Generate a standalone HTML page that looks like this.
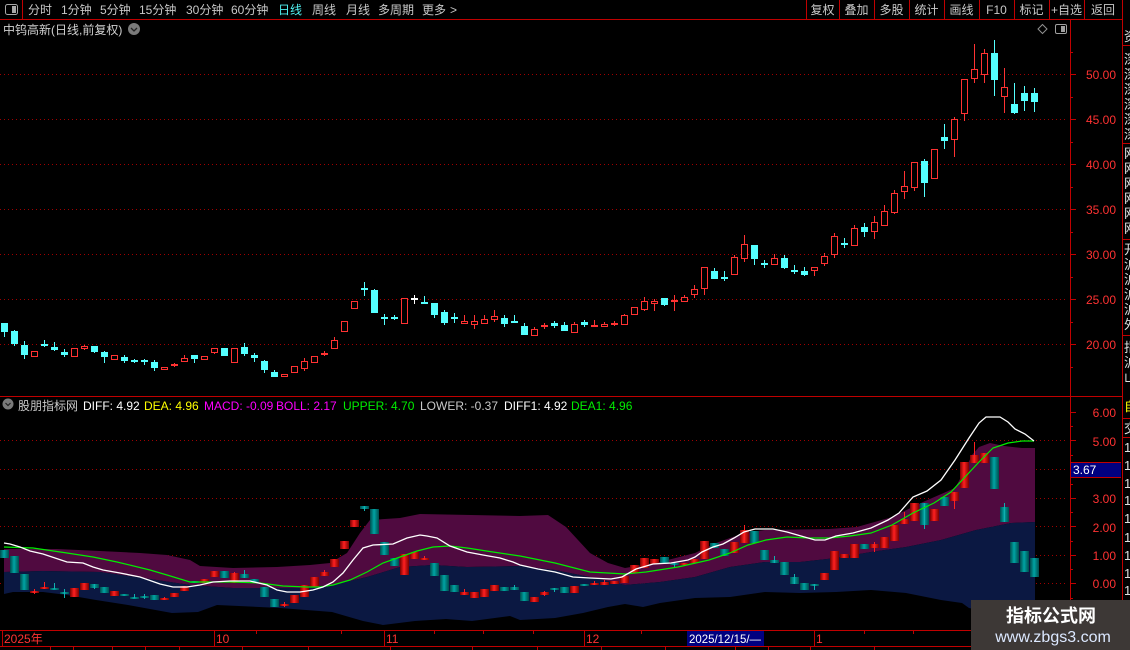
<!DOCTYPE html>
<html><head><meta charset="utf-8"><style>
html,body{margin:0;padding:0;background:#000;}
svg{display:block;}
text{font-family:"Liberation Sans","Noto Sans CJK SC",sans-serif;}
</style></head><body>
<svg width="1130" height="650" viewBox="0 0 1130 650" xmlns="http://www.w3.org/2000/svg">
<defs>
<linearGradient id="lr" x1="0" x2="1" y1="0" y2="0"><stop offset="0" stop-color="#780000"/><stop offset="0.45" stop-color="#ff2020"/><stop offset="1" stop-color="#780000"/></linearGradient>
<linearGradient id="lt" x1="0" x2="1" y1="0" y2="0"><stop offset="0" stop-color="#004c4c"/><stop offset="0.45" stop-color="#00a4a4"/><stop offset="1" stop-color="#004c4c"/></linearGradient>
<pattern id="pr" width="10" height="10" patternUnits="userSpaceOnUse"><rect width="9" height="10" fill="url(#lr)"/></pattern>
<pattern id="pt" width="10" height="10" patternUnits="userSpaceOnUse"><rect width="9" height="10" fill="url(#lt)"/></pattern>
</defs>
<rect width="1130" height="650" fill="#000"/>

<!-- toolbar -->
<g stroke="#c00000" stroke-width="1" fill="none">
<path d="M0 19.5H1122M22.5 0V19M806.5 0V19M839.5 0V19M874.5 0V19M909.5 0V19M944.5 0V19M979.5 0V19M1014.5 0V19M1049.5 0V19M1084.5 0V19M1122.5 0V650M1070.5 19V646M0 396.5H1122M0 630.5H971M0 646.5H971"/>
</g>
<rect x="5.5" y="4.5" width="12" height="10" rx="2" fill="none" stroke="#a8a8a8"/>
<rect x="12" y="6" width="4" height="7" fill="#a8a8a8"/>
<g font-size="12" fill="#c8c8c8">
<text x="28" y="14">分时</text>
<text x="61" y="14">1分钟</text>
<text x="100" y="14">5分钟</text>
<text x="139" y="14">15分钟</text>
<text x="186" y="14">30分钟</text>
<text x="231" y="14">60分钟</text>
<text x="278" y="14" fill="#50f0f0">日线</text>
<text x="312" y="14">周线</text>
<text x="346" y="14">月线</text>
<text x="378" y="14">多周期</text>
<text x="422" y="14">更多</text>
<text x="450" y="14">&gt;</text>
<g text-anchor="middle">
<text x="822.5" y="14">复权</text>
<text x="856.5" y="14">叠加</text>
<text x="891.5" y="14">多股</text>
<text x="926.5" y="14">统计</text>
<text x="961.5" y="14">画线</text>
<text x="996.5" y="14">F10</text>
<text x="1031.5" y="14">标记</text>
<text x="1066.5" y="14">+自选</text>
<text x="1103" y="14">返回</text>
</g>
<text x="3" y="34" fill="#d0d0d0">中钨高新(日线,前复权)</text>
</g>
<circle cx="134" cy="29" r="6" fill="#7a7a7a"/>
<path d="M131 28l3 3l3-3" stroke="#222" stroke-width="1.3" fill="none"/>
<path d="M1042.5 24.5l4.5 4.5l-4.5 4.5l-4.5-4.5z" fill="none" stroke="#909090"/>
<rect x="1055.5" y="24.5" width="11" height="9" rx="1.5" fill="none" stroke="#a0a0a0"/>
<rect x="1061" y="26" width="4" height="6" fill="#a0a0a0"/>

<!-- right strip -->
<g stroke="#c00000" fill="none"><path d="M1122 45.5H1130M1122 143.5H1130M1122 239.5H1130M1122 335.5H1130M1122 418.5H1130M1122 437.5H1130"/></g>
<g font-size="13" fill="#e0e0e0">
<text x="1124" y="41">资</text>
<text x="1124" y="64">深</text><text x="1124" y="79">深</text><text x="1124" y="94">深</text><text x="1124" y="109">深</text><text x="1124" y="124">深</text><text x="1124" y="139">深</text>
<text x="1124" y="158">网</text><text x="1124" y="173">网</text><text x="1124" y="188">网</text><text x="1124" y="203">网</text><text x="1124" y="218">网</text><text x="1124" y="233">网</text>
<text x="1124" y="254">开</text><text x="1124" y="269">沪</text><text x="1124" y="284">沪</text><text x="1124" y="299">沪</text><text x="1124" y="314">沪</text><text x="1124" y="329">外</text>
<text x="1124" y="352">指</text><text x="1124" y="367">沪</text><text x="1124" y="382">山</text>
<text x="1124" y="411" fill="#ffff00">自</text>
<text x="1124" y="433">交</text>
<text x="1124" y="452">1</text><text x="1124" y="470">1</text><text x="1124" y="488">1</text><text x="1124" y="505">1</text><text x="1124" y="523">1</text><text x="1124" y="542">1</text><text x="1124" y="560">1</text><text x="1124" y="578">1</text><text x="1124" y="595">1</text>
</g>

<!-- main grid -->
<g stroke="#a00000" stroke-dasharray="1 3" stroke-width="1">
<path d="M0 74.5H1068M0 119.5H1068M0 164.5H1068M0 209.5H1068M0 254.5H1068M0 299.5H1068M0 344.5H1068"/>
<path d="M0 440.5H1068M0 469.5H1068M0 498.5H1068M0 526.5H1068M0 555.5H1068M0 583.5H1068"/>
</g>
<!-- axis ticks -->
<g stroke="#c00000">
<path d="M1070 74.5h6M1070 119.5h6M1070 164.5h6M1070 209.5h6M1070 254.5h6M1070 299.5h6M1070 344.5h6M1070 97.5h3M1070 142.5h3M1070 187.5h3M1070 232.5h3M1070 277.5h3M1070 322.5h3M1070 367.5h3M1070 52.5h3"/>
<path d="M1070 412.5h6M1070 440.5h6M1070 469.5h6M1070 498.5h6M1070 526.5h6M1070 555.5h6M1070 583.5h6M1070 426.5h3M1070 455.5h3M1070 484.5h3M1070 512.5h3M1070 541.5h3M1070 569.5h3M1070 598.5h3M1070 612.5h3"/>
</g>
<g font-size="12" fill="#ff3232" text-anchor="end">
<text x="1116" y="79">50.00</text>
<text x="1116" y="124">45.00</text>
<text x="1116" y="169">40.00</text>
<text x="1116" y="214">35.00</text>
<text x="1116" y="259">30.00</text>
<text x="1116" y="304">25.00</text>
<text x="1116" y="349">20.00</text>
<text x="1116" y="417">6.00</text>
<text x="1116" y="446">5.00</text>
<text x="1116" y="503">3.00</text>
<text x="1116" y="532">2.00</text>
<text x="1116" y="560">1.00</text>
<text x="1116" y="588">0.00</text>
</g>
<rect x="1071" y="462" width="50" height="16" fill="#000080"/>
<path d="M1071 462.5H1121M1071 477.5H1121" stroke="#c00000"/>
<text x="1073" y="474" font-size="12" fill="#ffffff">3.67</text>

<!-- main candles -->
<g stroke-width="1" fill="none">
<path stroke="#ff3232" d="M84.5 345V350M174.5 363V367M184.5 355V362M214.5 348V354M304.5 358V371M324.5 351V356M334.5 337V349M464.5 315V324M474.5 315V329M484.5 315V324M494.5 310V322M534.5 327V336M544.5 323V329M574.5 322V333M594.5 320V327M604.5 322V327M614.5 321V326M624.5 314V325M644.5 297V311M654.5 299V311M674.5 295V311M684.5 295V302M694.5 285V298M704.5 267V295M734.5 255V275M744.5 235V262M774.5 254V265M814.5 267V276M824.5 253V266M834.5 233V258M854.5 225V246M874.5 216V239M884.5 205V226M894.5 190V214M904.5 171V199M914.5 162V191M954.5 117V157M964.5 79V121M974.5 44V83M984.5 49V83M1004.5 68V113"/>
<path stroke="#54ffff" d="M4.5 323V337M14.5 330V346M24.5 341V359M44.5 340V347M54.5 342V351M64.5 349V357M94.5 346V353M104.5 351V363M124.5 355V363M134.5 359V363M144.5 359V365M154.5 360V371M194.5 355V363M244.5 343V356M254.5 353V362M264.5 360V373M274.5 370V377M364.5 282V296M374.5 289V313M384.5 314V325M394.5 315V320M424.5 296V304M434.5 303V318M444.5 310V325M454.5 313V323M504.5 315V327M514.5 315V322M524.5 323V335M554.5 321V328M564.5 322V331M584.5 320V327M664.5 298V306M714.5 268V279M724.5 271V281M754.5 245V265M764.5 260V268M784.5 255V269M794.5 265V274M804.5 267V276M844.5 238V248M864.5 223V237M924.5 159V197M944.5 124V149M994.5 40V96M1014.5 83V114M1024.5 86V111M1034.5 88V112"/>
<path stroke="#ffffff" d="M414.5 295V304"/>
</g>
<path fill="#000" stroke="#ff3232" stroke-width="1" d="M31.5 351.5h6v5h-6zM71.5 348.5h6v8h-6zM81.5 346.5h6v2h-6zM111.5 355.5h6v4h-6zM161.5 367.5h6v2h-6zM181.5 358.5h6v3h-6zM201.5 356.5h6v3h-6zM211.5 348.5h6v4h-6zM231.5 348.5h6v14h-6zM281.5 374.5h6v2h-6zM291.5 366.5h6v6h-6zM301.5 361.5h6v7h-6zM311.5 356.5h6v6h-6zM331.5 340.5h6v8h-6zM341.5 321.5h6v10h-6zM351.5 301.5h6v7h-6zM401.5 298.5h6v25h-6zM461.5 321.5h6v2h-6zM471.5 321.5h6v3h-6zM481.5 319.5h6v4h-6zM491.5 316.5h6v3h-6zM531.5 329.5h6v6h-6zM571.5 324.5h6v8h-6zM601.5 324.5h6v2h-6zM621.5 315.5h6v9h-6zM631.5 307.5h6v7h-6zM641.5 301.5h6v8h-6zM651.5 301.5h6v2h-6zM681.5 297.5h6v4h-6zM691.5 289.5h6v5h-6zM701.5 267.5h6v21h-6zM731.5 257.5h6v17h-6zM741.5 244.5h6v14h-6zM771.5 258.5h6v6h-6zM811.5 267.5h6v3h-6zM821.5 256.5h6v7h-6zM831.5 236.5h6v18h-6zM851.5 228.5h6v17h-6zM871.5 222.5h6v9h-6zM881.5 211.5h6v14h-6zM891.5 193.5h6v19h-6zM901.5 186.5h6v5h-6zM911.5 162.5h6v25h-6zM931.5 149.5h6v29h-6zM951.5 119.5h6v20h-6zM961.5 79.5h6v34h-6zM971.5 69.5h6v9h-6zM981.5 53.5h6v21h-6zM1001.5 87.5h6v9h-6z"/>
<path fill="#ff3232" d="M171 364h7v2h-7zM321 353h7v2h-7zM541 325h7v2h-7zM591 325h7v2h-7zM611 323h7v2h-7zM671 300h7v2h-7z"/>
<path fill="#54ffff" d="M1 323h7v9h-7zM11 331h7v13h-7zM21 345h7v10h-7zM41 344h7v2h-7zM51 347h7v3h-7zM61 352h7v3h-7zM91 346h7v6h-7zM101 352h7v5h-7zM121 357h7v4h-7zM131 360h7v2h-7zM141 360h7v2h-7zM151 362h7v6h-7zM191 355h7v4h-7zM221 348h7v8h-7zM241 347h7v7h-7zM251 355h7v3h-7zM261 361h7v9h-7zM271 372h7v5h-7zM361 288h7v2h-7zM371 290h7v23h-7zM381 317h7v2h-7zM391 317h7v2h-7zM421 302h7v2h-7zM431 303h7v12h-7zM441 312h7v11h-7zM451 317h7v2h-7zM501 318h7v6h-7zM511 321h7v2h-7zM521 326h7v9h-7zM551 323h7v3h-7zM561 325h7v6h-7zM581 322h7v3h-7zM661 298h7v7h-7zM711 271h7v8h-7zM721 277h7v2h-7zM751 245h7v14h-7zM761 263h7v2h-7zM781 258h7v10h-7zM791 270h7v2h-7zM801 271h7v4h-7zM841 243h7v2h-7zM861 227h7v5h-7zM921 161h7v22h-7zM941 137h7v4h-7zM991 53h7v27h-7zM1011 104h7v9h-7zM1021 93h7v8h-7zM1031 93h7v9h-7z"/>
<path fill="#ffffff" d="M411 298h7v2h-7z"/>

<!-- lower panel legend -->
<circle cx="8" cy="404" r="5.5" fill="#7a7a7a"/>
<path d="M5.5 403l2.5 2.5l2.5-2.5" stroke="#222" stroke-width="1.2" fill="none"/>
<g font-size="12">
<text x="18" y="410" fill="#c8c8c8">股朋指标网</text>
<text x="83" y="410" fill="#ffffff">DIFF: 4.92</text>
<text x="144" y="410" fill="#ffff00">DEA: 4.96</text>
<text x="204" y="410" fill="#ff00ff">MACD: -0.09</text>
<text x="276" y="410" fill="#ff00ff">BOLL: 2.17</text>
<text x="343" y="410" fill="#00ee00">UPPER: 4.70</text>
<text x="420" y="410" fill="#c8c8c8">LOWER: -0.37</text>
<text x="504" y="410" fill="#ffffff">DIFF1: 4.92</text>
<text x="571" y="410" fill="#00ee00">DEA1: 4.96</text>
</g>

<!-- bands -->
<path fill="#500a40" d="M4 549L30 549L57 549L100 551L140 553L167 555L190 560L200 566L233 568L277 567L310 565L330 563L347 553L360 533L370 520L400 518L420 514L520 516L548 515L566 527L590 553L608 563L625 568L660 562L695 553L716 543L744 533L765 530L829 529L857 527L892 517L923 502L955 488L965 470L972 455L979 447L990 443L1004 446L1022 448L1035 448L1035 522L1011 523L976 530L941 540L906 547L871 552L836 558L800 562L765 562L730 567L695 577L660 582L625 585L590 577L555 570L520 566L467 567L433 565L400 567L367 577L333 585L300 588L233 588L190 585L150 579L100 572L43 571L4 572Z"/>
<path fill="#0b1842" d="M4 572L43 571L100 572L150 579L190 585L233 588L300 588L333 585L367 577L400 567L433 565L467 567L520 566L555 570L590 577L625 585L660 582L695 577L730 567L765 562L800 562L836 558L871 552L906 547L941 540L976 530L1011 523L1035 522L1035 612L990 612L969 608L962 603L941 600L906 593L871 590L836 592L800 593L765 592L730 597L695 598L660 603L643 607L625 604L608 607L583 613L555 618L520 620L510 616L472 621L446 619L415 621L383 625L363 621L332 612L280 608L217 605L198 612L172 613L128 605L96 600L67 595L43 592L13 592L4 594Z"/>

<!-- lower bars -->
<path fill="url(#pt)" d="M0 550h9v8h-9zM10 556h9v17h-9zM20 574h9v16h-9zM50 588h9v2h-9zM60 592h9v2h-9zM90 584h9v4h-9zM100 587h9v6h-9zM120 594h9v2h-9zM130 597h9v2h-9zM140 596h9v2h-9zM150 595h9v5h-9zM190 581h9v2h-9zM220 571h9v7h-9zM240 574h9v4h-9zM250 579h9v4h-9zM260 587h9v10h-9zM270 599h9v8h-9zM360 506h9v3h-9zM370 509h9v25h-9zM380 542h9v13h-9zM390 558h9v8h-9zM430 563h9v13h-9zM440 575h9v16h-9zM450 585h9v7h-9zM500 587h9v4h-9zM510 587h9v3h-9zM520 592h9v9h-9zM550 588h9v2h-9zM560 587h9v6h-9zM580 584h9v2h-9zM660 557h9v7h-9zM670 563h9v2h-9zM710 543h9v5h-9zM720 549h9v7h-9zM750 531h9v12h-9zM760 550h9v10h-9zM770 560h9v3h-9zM780 562h9v13h-9zM790 577h9v7h-9zM800 583h9v7h-9zM810 584h9v2h-9zM860 544h9v5h-9zM920 503h9v22h-9zM940 497h9v9h-9zM990 457h9v32h-9zM1000 507h9v15h-9zM1010 542h9v21h-9zM1020 551h9v21h-9zM1030 558h9v19h-9z"/>
<path stroke="#10b0b0" stroke-width="1" fill="none" d="M54.5 583V589M64.5 589V598M94.5 584V589M134.5 594V598M144.5 594V599M244.5 570V578M364.5 506V511M514.5 585V590M554.5 588V592M674.5 563V567M774.5 556V563M794.5 574V584M814.5 584V590M924.5 503V529M1004.5 503V522"/>
<path fill="url(#pr)" d="M30 591h9v2h-9zM40 587h9v2h-9zM70 588h9v9h-9zM80 583h9v7h-9zM110 591h9v5h-9zM160 598h9v2h-9zM170 593h9v4h-9zM180 586h9v5h-9zM200 579h9v4h-9zM210 571h9v6h-9zM230 573h9v10h-9zM280 604h9v2h-9zM290 595h9v8h-9zM300 585h9v12h-9zM310 577h9v10h-9zM320 572h9v4h-9zM330 559h9v8h-9zM340 541h9v8h-9zM350 520h9v7h-9zM400 554h9v21h-9zM410 552h9v7h-9zM420 558h9v2h-9zM460 592h9v3h-9zM470 592h9v6h-9zM480 589h9v8h-9zM490 585h9v6h-9zM530 597h9v5h-9zM540 592h9v3h-9zM570 586h9v7h-9zM590 583h9v2h-9zM600 582h9v3h-9zM610 581h9v3h-9zM620 576h9v7h-9zM630 565h9v8h-9zM640 558h9v10h-9zM650 559h9v5h-9zM680 563h9v2h-9zM690 559h9v4h-9zM700 541h9v18h-9zM730 542h9v11h-9zM740 530h9v13h-9zM820 573h9v7h-9zM830 551h9v19h-9zM840 554h9v4h-9zM850 544h9v14h-9zM870 544h9v4h-9zM880 537h9v11h-9zM890 525h9v16h-9zM900 519h9v5h-9zM910 503h9v18h-9zM930 509h9v12h-9zM950 492h9v9h-9zM960 462h9v26h-9zM970 455h9v8h-9zM980 453h9v10h-9z"/>
<path stroke="#ff2020" stroke-width="1" fill="none" d="M34.5 589V594M44.5 582V589M164.5 597V599M234.5 572V583M284.5 602V607M324.5 570V576M424.5 556V559M464.5 589V595M544.5 591V596M594.5 581V585M604.5 580V585M744.5 525V543M874.5 542V552M904.5 512V524M954.5 492V509M974.5 442V463"/>

<!-- lines -->
<polyline fill="none" stroke="#00ee00" stroke-width="1.2" points="4,547 33,548 67,553 93,557 117,562 150,570 167,575 190,582 213,582 233,582 260,583 283,586 307,587 320,587 333,585 350,580 367,572 383,563 400,557 417,551 433,547 450,546 467,548 493,552 520,556 555,563 590,572 625,574 646,572 678,567 709,560 730,553 748,545 766,540 787,537 808,538 829,538 850,536 871,533 892,525 913,513 934,503 951,492 965,477 979,462 993,448 1008,443 1022,441 1034,441"/>
<polyline fill="none" stroke="#ffffff" stroke-width="1.3" points="4,543 10,544 20,547 30,551 43,554 67,562 83,563 93,567 103,570 120,573 140,577 160,584 173,587 187,587 200,585 213,582 230,581 250,581 267,585 277,590 287,592 300,592 313,590 323,587 333,582 343,573 353,560 363,548 373,545 393,544 407,538 420,535 427,536 437,538 450,546 467,552 483,555 500,558 513,562 520,565 538,569 555,572 573,577 590,578 611,579 622,577 636,569 653,564 671,563 688,560 695,557 702,552 713,547 723,544 734,538 744,532 755,529 773,529 787,532 801,536 815,540 825,540 836,536 853,533 871,528 888,520 899,513 913,497 927,491 941,480 955,460 969,438 979,423 986,417 1000,417 1008,422 1015,429 1025,434 1034,441"/>

<!-- date axis -->
<g stroke="#c00000" fill="none">
<path d="M2.5 631V646M214.5 631V646M384.5 631V646M584.5 631V646M814.5 631V646M256.5 631V634M341.5 631V634M434.5 631V634M483.5 631V634M533.5 631V634M641.5 631V634M864.5 631V634M913.5 631V634M50.5 647V650M73.5 647V650M112.5 647V650M145.5 647V650M179.5 647V650M242.5 647V650M308.5 647V650M390.5 647V650M472.5 647V650M537.5 647V650M601.5 647V650M665.5 647V650M735.5 647V650M768.5 647V650M810.5 647V650M874.5 647V650"/>
</g>
<g font-size="12" fill="#ff3232">
<text x="4" y="643">2025年</text>
<text x="216" y="643">10</text>
<text x="386" y="643">11</text>
<text x="586" y="643">12</text>
<text x="816" y="643">1</text>
</g>
<rect x="687" y="631" width="77" height="15" fill="#000080"/>
<text x="689" y="643" font-size="12" fill="#ffffff" textLength="72" lengthAdjust="spacingAndGlyphs">2025/12/15/—</text>

<!-- watermark -->
<rect x="971" y="600" width="159" height="50" fill="#3d3836"/>
<text x="1051" y="622" font-size="18" font-weight="bold" fill="#ffffff" text-anchor="middle">指标公式网</text>
<text x="1053" y="642" font-size="16" fill="#dce8ff" text-anchor="middle">www.zbgs3.com</text>
</svg>
</body></html>
